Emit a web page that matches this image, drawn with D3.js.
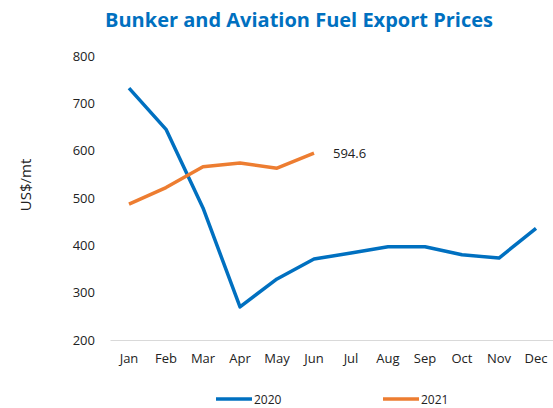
<!DOCTYPE html>
<html><head><meta charset="utf-8">
<script src="https://cdn.jsdelivr.net/npm/d3@7"></script>
<style>body{margin:0;background:#fff;} svg{display:block;font-family:"Open Sans","Noto Sans",sans-serif;}</style>
</head><body>
<svg id="c" width="553" height="408"></svg>
<script>
const months = ["Jan","Feb","Mar","Apr","May","Jun","Jul","Aug","Sep","Oct","Nov","Dec"];
const values2020 = [732,645,479,270,329,371,384,397,397,380,373,436];
const values2021 = [487,522,566,574,563,594.6];
const yTicks = [200,300,400,500,600,700,800];
const seriesNames = ["2020","2021"];
const colors = ["#0070C0","#ED7D31"];

const svg = d3.select("#c");
const x = d3.scaleBand().domain(months).range([110.5,554.5]);
const y = d3.scaleLinear().domain([200,800]).range([340,56]);
const cx = m => x(m) + x.bandwidth()/2;

svg.append("text").attr("x",299).attr("y",27).attr("text-anchor","middle")
  .attr("font-size",20).attr("font-weight","bold").attr("fill","#0070C0")
  .text("Bunker and Aviation Fuel Export Prices");

svg.append("line").attr("x1",110.5).attr("x2",554.5).attr("y1",340.5).attr("y2",340.5)
  .attr("stroke","#d9d9d9").attr("stroke-width",1);

svg.selectAll(".yt").data(yTicks).enter().append("text")
  .attr("x",95).attr("y",d=>y(d)+4.5).attr("text-anchor","end")
  .attr("font-size",13).attr("fill","#222").text(d=>d);

svg.selectAll(".xt").data(months).enter().append("text")
  .attr("x",d=>cx(d)).attr("y",363).attr("text-anchor","middle")
  .attr("font-size",13).attr("fill","#222").text(d=>d);

svg.append("text").attr("transform","translate(31,185) rotate(-90)")
  .attr("text-anchor","middle").attr("font-size",15).attr("fill","#222").text("US$/mt");

const line = d3.line().x((d,i)=>cx(months[i])).y(d=>y(d));
[values2020, values2021].forEach((vals,k)=>{
  svg.append("path").attr("d",line(vals)).attr("fill","none")
    .attr("stroke",colors[k]).attr("stroke-width",3.5).attr("stroke-linejoin","round");
});

const last = values2021[values2021.length-1];
svg.append("text").attr("x",cx(months[values2021.length-1])+19).attr("y",y(last)+5)
  .attr("font-size",13).attr("fill","#222").text(d3.format(".1f")(last));

const legX = [216,383];
seriesNames.forEach((n,k)=>{
  svg.append("line").attr("x1",legX[k]).attr("x2",legX[k]+36).attr("y1",399).attr("y2",399)
    .attr("stroke",colors[k]).attr("stroke-width",3.5);
  svg.append("text").attr("x",legX[k]+38).attr("y",404).attr("font-size",12).attr("fill","#222").text(n);
});
</script>
</body></html>
